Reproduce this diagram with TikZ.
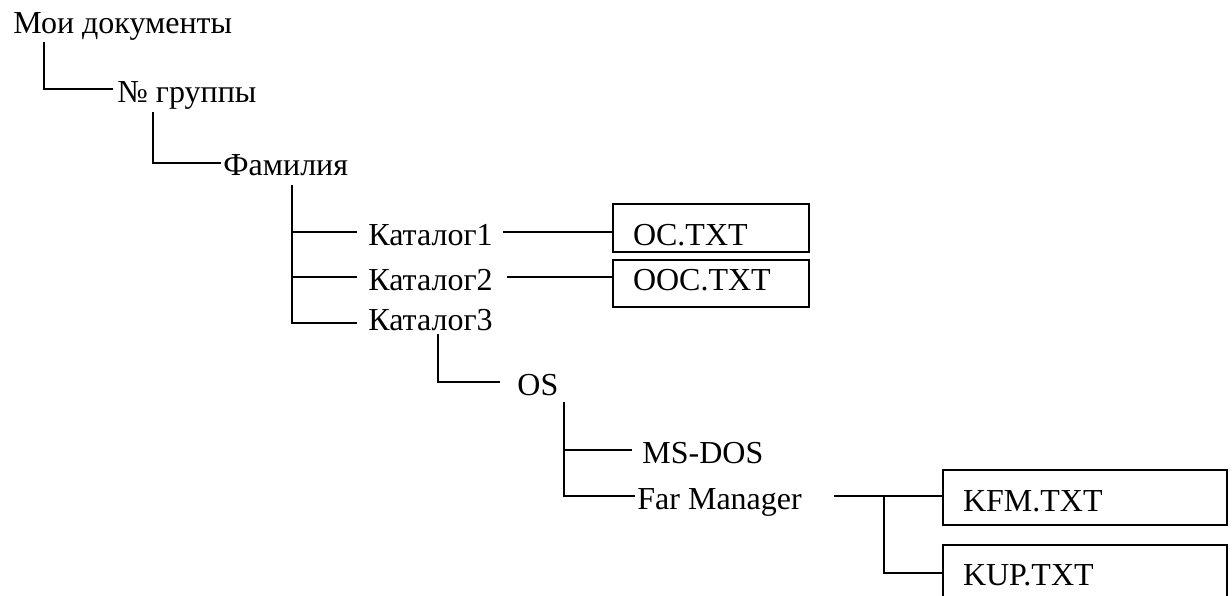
\documentclass[tikz,border=0pt]{standalone}
\usepackage{fontspec}
\setmainfont{Liberation Serif}
\usepackage{tikz}
\usetikzlibrary{positioning,calc}

\begin{document}
\begin{tikzpicture}[x=0.5pt,y=-0.5pt,
  font=\fontsize{16}{18}\selectfont,
  lbl/.style={anchor=west,inner sep=0pt,text height=13pt,text depth=0pt},
  filebox/.style={draw,line width=1pt,inner xsep=10pt,inner ysep=0pt,
                  align=left,text height=13pt,text depth=0pt},
  conn/.style={line width=1pt}]

\useasboundingbox (0,0) rectangle (1232,595);

%─── Root chain ──────────────────────────────────────────────────────────────
\node[lbl] (doc) at (13,20) {Мои документы};
\node[lbl] (grp) at (117,89) {№ группы};
\node[lbl] (fam) at (223,162) {Фамилия};
\coordinate (b0) at (44,42);
\coordinate (b1) at (153,112);
\draw[conn,shorten >=2pt] (b0) |- (grp.west);
\draw[conn,shorten >=1pt] (b1) |- ([yshift=-0.5pt]fam.west);

%─── Catalogues ──────────────────────────────────────────────────────────────
\node[lbl] (cat1) at (368,232) {Каталог1};
\node[lbl] (cat2) at (368,277) {Каталог2};
\node[lbl] (cat3) at (368,317) {Каталог3};
\coordinate (b2) at (292,185);
\draw[conn,shorten >=5.5pt] (b2) |- (cat1.west);
\draw[conn,shorten >=5.5pt] (b2) |- (cat2.west);
\draw[conn,shorten >=5.5pt] (b2) |- ([yshift=-3pt]cat3.west);

% text files of Каталог1 and Каталог2
\node[filebox,minimum width=98pt,text width=78pt,minimum height=24pt,
      text height=17pt] (oc) at (711,228) {OC.TXT};
\node[filebox,minimum width=98pt,text width=78pt,minimum height=23.5pt,
      text height=7pt] (ooc) at (711,283.5) {OOC.TXT};
\draw[conn,shorten <=5pt] (cat1.east) -- (cat1.east -| oc.west);
\draw[conn,shorten <=7pt] (cat2.east) -- (cat2.east -| ooc.west);

%─── OS subtree ──────────────────────────────────────────────────────────────
\node[lbl] (os) at (517,382) {OS};
\coordinate (b3) at (438,334);
\draw[conn,shorten >=8.5pt] (b3) |- (os.west);
\node[lbl] (msdos) at (642,450) {MS-DOS};
\node[lbl] (far) at (637,496) {Far Manager};
\coordinate (b4) at (564,402);
\draw[conn,shorten >=5pt] (b4) |- (msdos.west);
\draw[conn,shorten >=1pt] (b4) |- (far.west);

%─── Far Manager files ───────────────────────────────────────────────────────
\node[filebox,minimum width=142pt,text width=122pt,minimum height=27.5pt,
      text height=14pt] (kfm) at (1085,497) {KFM.TXT};
\node[filebox,minimum width=142pt,text width=122pt,minimum height=27.5pt]
  (kup) at (1085,572.5) {KUP.TXT};
\coordinate (b5) at (884,496);
\draw[conn,shorten <=16pt] (far.east) -- (far.east -| kfm.west);
\draw[conn] (b5) |- (kup.west);

\end{tikzpicture}
\end{document}
